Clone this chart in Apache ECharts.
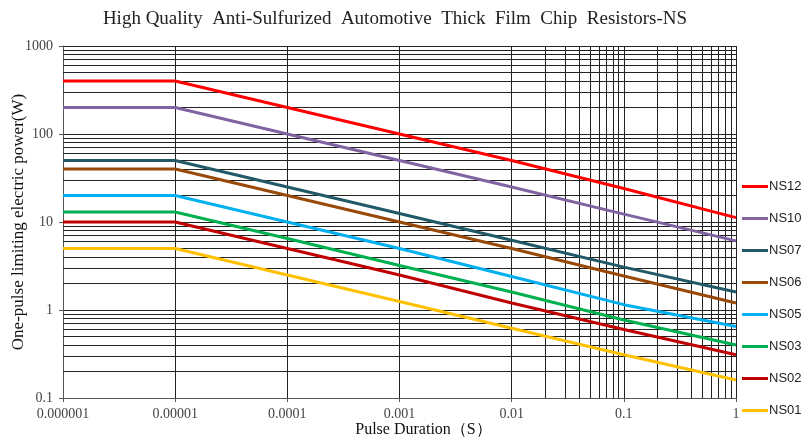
<!DOCTYPE html>
<html>
<head>
<meta charset="utf-8">
<script src="https://cdn.jsdelivr.net/npm/echarts@6/dist/echarts.min.js"></script>
<style>html,body{margin:0;padding:0;background:#fff}#c{width:804px;height:437px}</style>
</head>
<body>
<div id="c"></div>
<script>
// Pulse durations (s)
const durations = [0.000001, 0.00001, 0.0001, 0.001, 0.01, 0.1, 1];
const xTickLabels = ['0.000001', '0.00001', '0.0001', '0.001', '0.01', '0.1', '1'];
const yTickLabels = ['0.1', '1', '10', '100', '1000'];
const seriesNames = ['NS12', 'NS10', 'NS07', 'NS06', 'NS05', 'NS03', 'NS02', 'NS01'];
const NS12 = [400, 400, 200, 100, 50, 24, 11.2];
const NS10 = [200, 200, 100, 50, 25, 12.3, 6.1];
const NS07 = [50, 50, 25, 12.5, 6.2, 3.07, 1.6];
const NS06 = [40, 40, 20, 10, 5, 2.43, 1.2];
const NS05 = [20, 20, 10, 5, 2.4, 1.15, 0.65];
const NS03 = [13, 13, 6.5, 3.2, 1.6, 0.77, 0.4];
const NS02 = [10, 10, 5, 2.5, 1.2, 0.6, 0.31];
const NS01 = [5, 5, 2.5, 1.25, 0.62, 0.31, 0.16];
const seriesValues = [NS12, NS10, NS07, NS06, NS05, NS03, NS02, NS01];
const seriesColors = ['#FF0000', '#8064A2', '#215968', '#984807', '#00B0F0', '#00B050', '#C00000', '#FFC000'];
// minor gridline values (2..9 in each decade)
const xMinorGrid = [];
[0.000001, 0.00001, 0.0001, 0.001, 0.01, 0.1].forEach(d => { for (let k = 2; k <= 9; k++) xMinorGrid.push(+(d * k).toPrecision(3)); });
const yMinorGrid = [];
[0.1, 1, 10, 100].forEach(d => { for (let k = 2; k <= 9; k++) yMinorGrid.push(+(d * k).toPrecision(3)); });

const chart = echarts.init(document.getElementById('c'), null, {renderer: 'canvas'});
const gridColor = '#222';
const series = seriesNames.map((n, i) => ({
  name: n,
  type: 'line',
  z: 5,
  symbol: 'none',
  showSymbol: false,
  color: seriesColors[i],
  lineStyle: {width: 3, color: seriesColors[i]},
  data: durations.map((t, j) => [t, seriesValues[i][j]])
}));
series.push({
  name: 'grid',
  type: 'line',
  z: 1,
  data: [],
  silent: true,
  markLine: {
    silent: true,
    symbol: ['none', 'none'],
    animation: false,
    label: {show: false},
    lineStyle: {color: gridColor, width: 1, type: 'solid'},
    emphasis: {disabled: true},
    data: xMinorGrid.map(v => ({xAxis: v})).concat(yMinorGrid.map(v => ({yAxis: v})))
  }
});

chart.setOption({
  animation: false,
  backgroundColor: '#fff',
  title: {
    text: 'High Quality  Anti-Sulfurized  Automotive  Thick  Film  Chip  Resistors-NS',
    left: 390, top: 5, textAlign: 'center',
    textStyle: {fontFamily: 'Liberation Serif', fontSize: 19, fontWeight: 'normal', color: '#222'}
  },
  legend: {
    data: seriesNames,
    orient: 'vertical',
    left: 737, top: 174,
    icon: 'rect',
    itemWidth: 26, itemHeight: 3, itemGap: 17,
    textStyle: {fontFamily: 'Liberation Sans', fontSize: 13, color: '#222', padding: [0,0,0,-4], lineHeight: 15}
  },
  grid: {left: 63, right: 68, top: 46, bottom: 39, containLabel: false, outerBoundsMode: 'none'},
  xAxis: {
    type: 'log', logBase: 10, min: 0.000001, max: 1,
    name: 'Pulse Duration（S）', nameLocation: 'middle', nameGap: 24, nameMoveOverlap: false,
    nameTextStyle: {fontFamily: 'Liberation Serif', fontSize: 16, color: '#111', padding: [0, 0, 0, 48]},
    axisLine: {show: true, lineStyle: {color: '#555', width: 1}},
    axisTick: {show: true, length: 4, lineStyle: {color: '#555'}},
    axisLabel: {fontFamily: 'Liberation Serif', fontSize: 14, color: '#444', margin: 9,
      formatter: (v, i) => xTickLabels[i] !== undefined ? xTickLabels[i] : ''},
    splitLine: {show: true, lineStyle: {color: gridColor, width: 1}}
  },
  yAxis: {
    type: 'log', logBase: 10, min: 0.1, max: 1000,
    name: 'One-pulse limiting electric power(W)', nameLocation: 'middle', nameGap: 36, nameMoveOverlap: false,
    nameTextStyle: {fontFamily: 'Liberation Serif', fontSize: 17, color: '#111'},
    axisLine: {show: true, lineStyle: {color: '#555', width: 1}},
    axisTick: {show: true, length: 4, lineStyle: {color: '#555'}},
    axisLabel: {fontFamily: 'Liberation Serif', fontSize: 14, color: '#444', margin: 10,
      formatter: (v, i) => yTickLabels[i] !== undefined ? yTickLabels[i] : ''},
    splitLine: {show: true, lineStyle: {color: gridColor, width: 1}}
  },
  series: series
});
</script>
</body>
</html>
